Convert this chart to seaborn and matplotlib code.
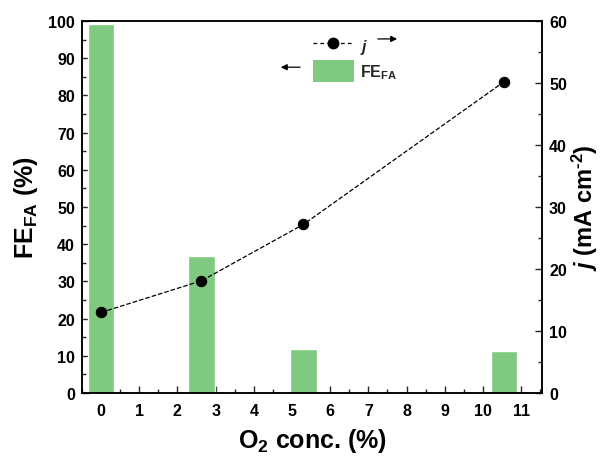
import matplotlib
matplotlib.use("Agg")
import matplotlib.pyplot as plt
import seaborn as sns
import pandas as pd
import numpy as np
from matplotlib.ticker import MultipleLocator
from matplotlib.lines import Line2D
from matplotlib.patches import Patch

# data
o2_conc = [0.0, 2.63, 5.3, 10.55]
fe_fa = [99.2, 36.8, 11.9, 11.3]
j_current = [13.0, 18.1, 27.2, 50.2]

sns.set_theme(style="ticks")
plt.rcParams['font.family'] = ['Liberation Sans', 'DejaVu Sans']
plt.rcParams['font.weight'] = 'bold'
plt.rcParams['mathtext.fontset'] = 'custom'
plt.rcParams['mathtext.rm'] = 'Liberation Sans:bold'
plt.rcParams['mathtext.bf'] = 'Liberation Sans:bold'
plt.rcParams['mathtext.it'] = 'Liberation Sans:bold:italic'
plt.rcParams['mathtext.default'] = 'bf'

df = pd.DataFrame({'o2': o2_conc, 'fe': fe_fa, 'j': j_current})

fig = plt.figure(figsize=(6.05, 4.6), dpi=100)
ax = fig.add_axes([0.1355, 0.1435, 0.7605, 0.8085])

# bar width 0.7 units of O2 conc. (seaborn scales width by the smallest spacing)
min_step = np.min(np.diff(sorted(o2_conc)))
sns.barplot(data=df, x='o2', y='fe', native_scale=True, width=0.7 / min_step,
            color='#80C980', saturation=1, ax=ax, zorder=1)
ax.set_xlim(-0.5, 11.55)
ax.set_ylim(0, 100)
ax.xaxis.set_major_locator(MultipleLocator(1))
ax.xaxis.set_minor_locator(MultipleLocator(0.5))
ax.yaxis.set_major_locator(MultipleLocator(10))
ax.yaxis.set_minor_locator(MultipleLocator(5))
ax.set_xticklabels([str(int(v)) for v in ax.get_xticks()])

ax2 = ax.twinx()
sns.lineplot(data=df, x='o2', y='j', ax=ax2, color='black', linestyle='--',
             linewidth=0.9, marker='o', markersize=7.5, markeredgecolor='black',
             dashes=(4, 3))
ax2.set_ylim(0, 60)
ax2.yaxis.set_major_locator(MultipleLocator(10))
ax2.yaxis.set_minor_locator(MultipleLocator(5))
ax2.set_xlim(-0.5, 11.55)

for a in (ax, ax2):
    a.tick_params(which='both', direction='in', labelsize=11.5, width=1,
                  labelcolor='black')
    a.tick_params(which='major', length=5)
    a.tick_params(which='minor', length=3)
    for s in a.spines.values():
        s.set_linewidth(1.1)
        s.set_color('black')
ax.tick_params(axis='y', which='both', right=False, pad=5)
ax.tick_params(axis='x', which='both', top=False, pad=7)
ax2.tick_params(axis='y', which='both', left=False, pad=5)

ax.set_xlabel('O$_2$ conc. (%)', fontsize=18, fontweight='bold', labelpad=6,
              color='black')
ax.set_ylabel('FE$_{FA}$ (%)', fontsize=18, fontweight='bold', labelpad=6,
              color='black')
ax2.set_ylabel('$\\mathit{j}$ (mA cm$^{\u20102}$)', fontsize=17,
               fontweight='bold', labelpad=2, color='black')

# custom legend with direction arrows
handles = [Line2D([], [], color='black', linestyle='--', dashes=(3, 2.5),
                  linewidth=0.9, marker='o', markersize=7.5),
           Patch(facecolor='#80C980', edgecolor='none')]
labels = ['$\\mathit{j}$', 'FE$_{FA}$']
ax2.legend(handles, labels, loc='upper left', bbox_to_anchor=(0.47, 1.0),
           frameon=False, fontsize=11.5, handlelength=2.6, handletextpad=0.35,
           handleheight=1.7, labelspacing=0.2)
arrow = dict(arrowstyle='-|>', color='black', lw=0.9, mutation_scale=9)
ax2.annotate('', xy=(0.691, 0.952), xytext=(0.637, 0.952),
             xycoords='axes fraction', arrowprops=arrow)
ax2.annotate('', xy=(0.426, 0.876), xytext=(0.480, 0.876),
             xycoords='axes fraction', arrowprops=arrow)

fig.savefig('out.png', dpi=100)
